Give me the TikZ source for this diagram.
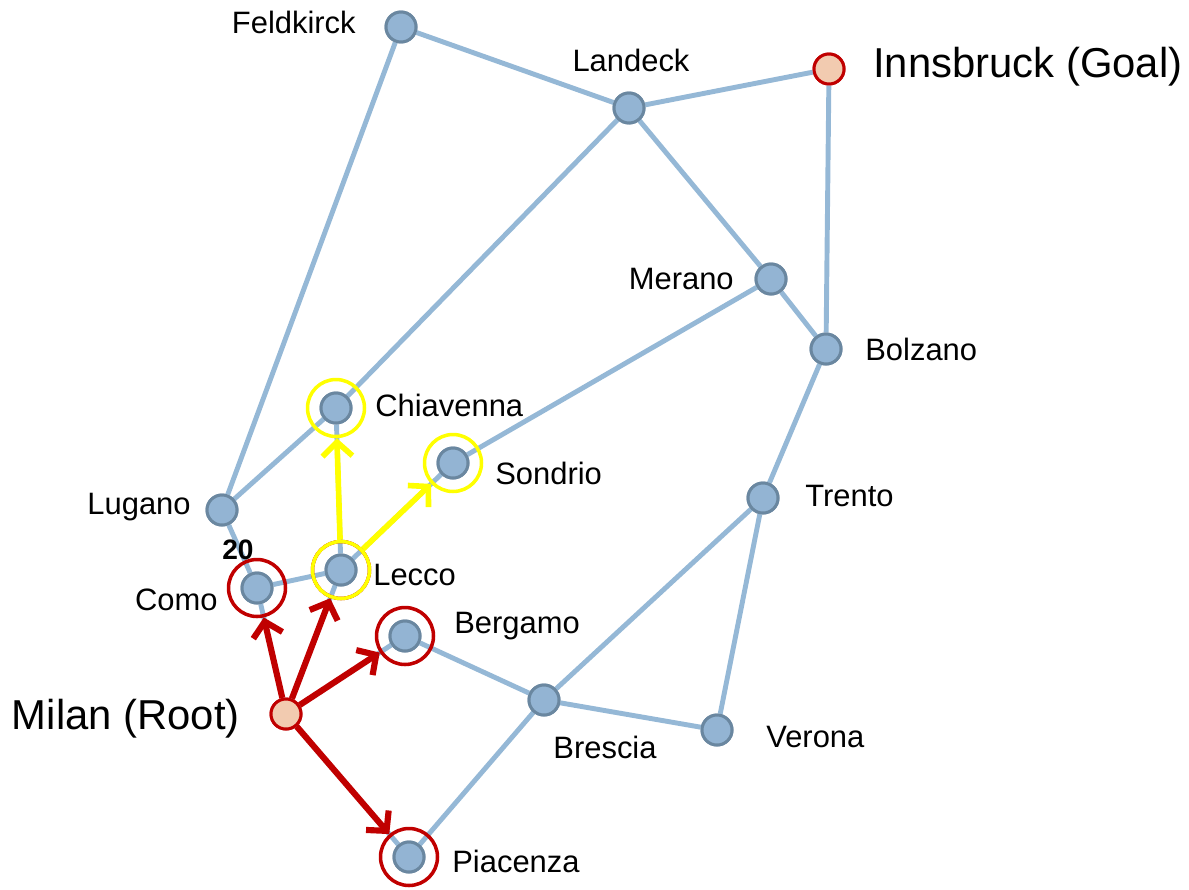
\documentclass[tikz,border=0pt]{standalone}
\usepackage{fontspec}
\setmainfont{Liberation Sans}
\usetikzlibrary{arrows.meta}
\definecolor{edgeblue}{HTML}{95B8D6}
\definecolor{nodefill}{HTML}{93B4D3}
\definecolor{nodeline}{HTML}{6A87A0}
\definecolor{darkred}{HTML}{C00000}
\definecolor{brightyellow}{HTML}{FFFF00}
\definecolor{peach}{HTML}{F2CBB0}
\tikzset{
  city/.style={circle, draw=nodeline, fill=nodefill, line width=1.7pt, minimum size=0.6cm, inner sep=0pt},
  endpoint/.style={circle, draw=darkred, fill=peach, line width=1.7pt, minimum size=0.6cm, inner sep=0pt},
  road/.style={draw=edgeblue, line width=2.8pt},
  redring/.style={circle, draw=darkred, line width=2pt, minimum size=1.14cm, inner sep=0pt},
  yellowring/.style={circle, draw=brightyellow, line width=2pt, minimum size=1.14cm, inner sep=0pt},
  redarrow/.style={draw=darkred, line width=3.5pt, -{Straight Barb[length=8pt,width=17pt,line width=3.5pt]}},
  yellowarrow/.style={draw=brightyellow, line width=3.2pt, -{Straight Barb[length=8pt,width=17pt,line width=3.2pt]}},
  lbl/.style={font=\fontsize{17.6}{20}\selectfont, inner sep=0pt},
  biglbl/.style={font=\fontsize{23.8}{27}\selectfont, inner sep=0pt},
  cost/.style={font=\fontsize{16}{18}\selectfont\bfseries, inner sep=0pt}
}
\begin{document}
\begin{tikzpicture}[x=0.02cm, y=-0.02cm]
\useasboundingbox (0,0) rectangle (1189,889);
% cities
\node[city] (feldkirck) at (401,27) {};
\node[city] (landeck) at (629,108) {};
\node[endpoint] (innsbruck) at (829,69) {};
\node[city] (merano) at (771,279) {};
\node[city] (bolzano) at (826,349) {};
\node[city] (chiavenna) at (336,408) {};
\node[city] (sondrio) at (453,463) {};
\node[city] (lugano) at (222,510) {};
\node[city] (trento) at (763,498) {};
\node[city] (como) at (257,588) {};
\node[city] (lecco) at (341,570) {};
\node[city] (bergamo) at (405,636) {};
\node[city] (brescia) at (544,700) {};
\node[city] (verona) at (717,730) {};
\node[endpoint] (milan) at (286,714) {};
\node[city] (piacenza) at (409,857) {};
% roads
\path[road]
  (feldkirck) -- (landeck)
  (feldkirck) -- (lugano)
  (landeck) -- (innsbruck)
  (landeck) -- (chiavenna)
  (landeck) -- (merano)
  (innsbruck) -- (bolzano)
  (merano) -- (bolzano)
  (merano) -- (sondrio)
  (bolzano) -- (trento)
  (chiavenna) -- (lugano)
  (chiavenna) -- (lecco)
  (sondrio) -- (lecco)
  (lugano) -- (como)
  (como) -- (lecco)
  (como) -- (milan)
  (lecco) -- (milan)
  (bergamo) -- (milan)
  (bergamo) -- (brescia)
  (brescia) -- (verona)
  (brescia) -- (trento)
  (trento) -- (verona)
  (brescia) -- (piacenza)
  (milan) -- (piacenza);
% redraw markers over the roads
\foreach \c in {feldkirck,landeck,merano,bolzano,chiavenna,sondrio,lugano,trento,como,lecco,bergamo,brescia,verona,piacenza}
  \node[city] at (\c) {};
\node[endpoint] at (innsbruck) {};
\node[endpoint] at (milan) {};
% frontier rings
\node[redring] (rcomo) at (como) {};
\node[redring] (rlecco) at (lecco) {};
\node[redring] (rbergamo) at (bergamo) {};
\node[redring] (rpiacenza) at (piacenza) {};
\node[yellowring] (ylecco) at (lecco) {};
\node[yellowring] (ychiavenna) at (chiavenna) {};
\node[yellowring] (ysondrio) at (sondrio) {};
% expansions
\draw[redarrow] (milan) -- (rcomo);
\draw[redarrow] (milan) -- (rlecco);
\draw[redarrow] (milan) -- (rbergamo);
\draw[redarrow] (milan) -- (rpiacenza);
\draw[yellowarrow] (ylecco) -- (ychiavenna);
\draw[yellowarrow] (ylecco) -- (ysondrio);
% labels
\node[lbl, anchor=east] at (356,22) {Feldkirck};
\node[lbl] at (631,60) {Landeck};
\node[biglbl, anchor=west] at (873,67) {Innsbruck (Goal)};
\node[lbl, anchor=east] at (734,279) {Merano};
\node[lbl, anchor=west] at (865,349) {Bolzano};
\node[lbl, anchor=west] at (375,405) {Chiavenna};
\node[lbl, anchor=west] at (495,473) {Sondrio};
\node[lbl, anchor=east] at (191,507) {Lugano};
\node[lbl, anchor=west] at (805,496) {Trento};
\node[lbl, anchor=east] at (218,600) {Como};
\node[lbl, anchor=west] at (373,575) {Lecco};
\node[lbl, anchor=west] at (454,626) {Bergamo};
\node[lbl] at (605,747) {Brescia};
\node[lbl, anchor=west] at (766,737) {Verona};
\node[lbl, anchor=west] at (452,861) {Piacenza};
\node[biglbl, anchor=east] at (240,719) {Milan (Root)};
\node[cost] at (238,550) {20};
\end{tikzpicture}
\end{document}
